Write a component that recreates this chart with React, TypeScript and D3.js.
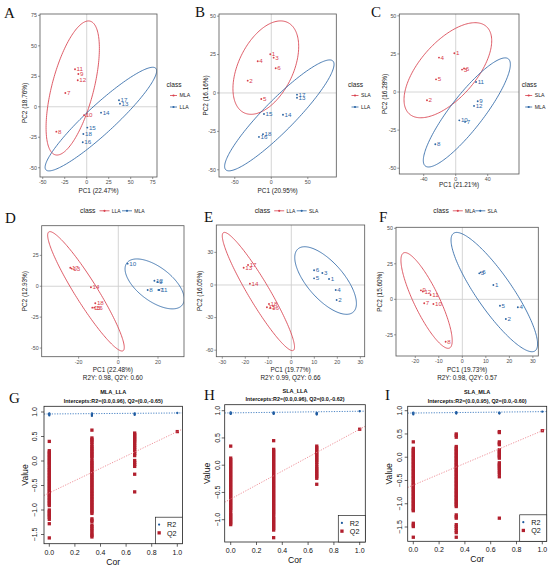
import React from "react";
import * as d3 from "d3";

type Pt = { id: string; x: number; y: number };
type Ell = { cx: number; cy: number; w: number; h: number; r: number };

// ---------------- PCA / OPLS-DA scores (PC1, PC2) ----------------
const A_MLA: Pt[] = [
  { id: "11", x: -13.3, y: 30.8 }, { id: "9", x: -9.5, y: 26.9 }, { id: "12", x: -10.2, y: 21.7 },
  { id: "7", x: -24.3, y: 11.3 }, { id: "10", x: -3, y: -7 }, { id: "8", x: -34.5, y: -20.4 },
];
const A_LLA: Pt[] = [
  { id: "17", x: 36.7, y: 5.3 }, { id: "13", x: 37.8, y: 2.5 }, { id: "14", x: 16.3, y: -4.8 },
  { id: "15", x: 0.7, y: -17.1 }, { id: "18", x: -3.8, y: -22.3 }, { id: "16", x: -4.5, y: -29.1 },
];
const B_SLA: Pt[] = [
  { id: "1", x: -1.4, y: 25.2 }, { id: "3", x: 3.2, y: 23 }, { id: "4", x: -18.6, y: 20.6 },
  { id: "6", x: 6, y: 16.1 }, { id: "2", x: -32.3, y: 8 }, { id: "5", x: -13.7, y: -3.9 },
];
const B_LLA: Pt[] = [
  { id: "17", x: 35.2, y: -1.1 }, { id: "13", x: 35.2, y: -3.1 }, { id: "15", x: -10, y: -13.7 },
  { id: "14", x: 16, y: -14.2 }, { id: "18", x: -11.4, y: -26.8 }, { id: "16", x: -16.9, y: -28.6 },
];
const C_SLA: Pt[] = [
  { id: "1", x: -1.7, y: 25.4 }, { id: "4", x: -20.9, y: 22.6 }, { id: "6", x: 10.4, y: 15.4 },
  { id: "3", x: 7.9, y: 14.7 }, { id: "5", x: -24.6, y: 8.3 }, { id: "2", x: -35.9, y: -5.4 },
];
const C_MLA: Pt[] = [
  { id: "11", x: 25.4, y: 6.6 }, { id: "9", x: 27.5, y: -6.1 }, { id: "12", x: 22.9, y: -9.1 },
  { id: "10", x: 4.5, y: -18.6 }, { id: "7", x: 11.7, y: -19.6 }, { id: "8", x: -25.5, y: -34.3 },
];
const D_LLA: Pt[] = [
  { id: "17", x: -24.2, y: 15 }, { id: "13", x: -23.5, y: 14.3 }, { id: "14", x: -13.8, y: -0.8 },
  { id: "18", x: -11.6, y: -13.8 }, { id: "15", x: -13.1, y: -17.3 }, { id: "16", x: -12.1, y: -17.3 },
];
const D_MLA: Pt[] = [
  { id: "10", x: 4.7, y: 18.3 }, { id: "12", x: 18.2, y: 4.5 }, { id: "9", x: 19.7, y: 3.5 },
  { id: "8", x: 14.8, y: -3 }, { id: "11", x: 20.7, y: -3 }, { id: "7", x: 20.2, y: -3 },
];
const E_LLA: Pt[] = [
  { id: "17", x: -18.8, y: 18.4 }, { id: "13", x: -20.7, y: 15.9 }, { id: "14", x: -18, y: 1.2 },
  { id: "18", x: -9.7, y: -17.5 }, { id: "15", x: -10.6, y: -20.5 }, { id: "16", x: -9.1, y: -20.9 },
];
const E_SLA: Pt[] = [
  { id: "6", x: 9.9, y: 13.5 }, { id: "3", x: 13.5, y: 11 }, { id: "5", x: 9.9, y: 6.1 },
  { id: "1", x: 16.4, y: 5.5 }, { id: "4", x: 19.3, y: -4.6 }, { id: "2", x: 19.7, y: -13.8 },
];
const F_MLA: Pt[] = [
  { id: "9", x: -17.6, y: 6.3 }, { id: "12", x: -16.8, y: 5.5 }, { id: "11", x: -13.5, y: 3 },
  { id: "7", x: -16.2, y: -2.8 }, { id: "10", x: -12.3, y: -3.3 }, { id: "8", x: -7.1, y: -29.9 },
];
const F_SLA: Pt[] = [
  { id: "3", x: 7.2, y: 18.3 }, { id: "6", x: 7.8, y: 19 }, { id: "1", x: 13.2, y: 10.1 },
  { id: "5", x: 16, y: -4.5 }, { id: "4", x: 23.6, y: -5.6 }, { id: "2", x: 18.5, y: -13.9 },
];

// confidence ellipses: centre, half ranges, correlation
const A_MLA_ELL: Ell = { cx: -15.9, cy: 15.4, w: 30.3, h: 55.0, r: 0.59 };
const A_LLA_ELL: Ell = { cx: 16.1, cy: -10.1, w: 63.4, h: 42.5, r: 0.93 };
const B_SLA_ELL: Ell = { cx: -7.5, cy: 16.5, w: 45, h: 30.4, r: 0.45 };
const B_LLA_ELL: Ell = { cx: 11, cy: -14.6, w: 74.9, h: 36.1, r: 0.92 };
const C_SLA_ELL: Ell = { cx: -9.8, cy: 14.3, w: 54.8, h: 31.2, r: 0.62 };
const C_MLA_ELL: Ell = { cx: 13.9, cy: -13.4, w: 54.4, h: 35.8, r: 0.88 };
const D_LLA_ELL: Ell = { cx: -16.3, cy: -4.1, w: 19.3, h: 48.3, r: -0.94 };
const D_MLA_ELL: Ell = { cx: 18.3, cy: 1.9, w: 14.9, h: 20.2, r: -0.6 };
const E_LLA_ELL: Ell = { cx: -14.3, cy: -6, w: 15.7, h: 54.4, r: -0.94 };
const E_SLA_ELL: Ell = { cx: 14.9, cy: 4.1, w: 13.4, h: 31.1, r: -0.68 };
const F_MLA_ELL: Ell = { cx: -15.2, cy: -0.8, w: 10.9, h: 33.7, r: -0.84 };
const F_SLA_ELL: Ell = { cx: 13.6, cy: 5.1, w: 18.4, h: 42, r: -0.87 };

const PCA_X_TITLES = ["PC1 (22.47%)", "PC1 (20.95%)", "PC1 (21.21%)", "PC1 (22.48%)", "PC1 (19.77%)", "PC1 (19.73%)"];
const PCA_Y_TITLES = ["PC2 (18.76%)", "PC2 (16.16%)", "PC2 (16.28%)", "PC2 (12.93%)", "PC2 (16.05%)", "PC2 (15.60%)"];
const OPLS_FIT = ["R2Y: 0.98, Q2Y: 0.60", "R2Y: 0.99, Q2Y: 0.66", "R2Y: 0.98, Q2Y: 0.57"];

const A_XT = [-50, -25, 0, 25, 50, 75];
const A_YT = [-50, -25, 0, 25, 50, 75];
const B_XT = [-50, 0, 50];
const B_YT = [-50, -25, 0, 25, 50];
const C_XT = [-40, 0, 40];
const C_YT = [-50, -25, 0, 25, 50];
const D_XT = [-20, 0, 20];
const D_YT = [-50, -25, 0, 25];
const E_XT = [-30, -20, -10, 0, 10, 20, 30];
const E_YT = [-60, -30, 0, 30];
const F_XT = [-20, -10, 0, 10, 20, 30];
const F_YT = [-25, 0, 25, 50];

// ---------------- permutation tests ----------------
const COR_LEVELS = [0, 0.333, 0.667, 1];

const G_Q2 = [
  [0.40, 0.21, 0.18, 0.15, 0.12, 0.09, 0.06, 0.03, 0.0, -0.03, -0.06, -0.09, -0.13, -0.16, -0.19, -0.22, -0.25, -0.28, -0.31, -0.34, -0.37, -0.40, -0.43, -0.46, -0.49, -0.52, -0.55, -0.58, -0.61, -0.64, -0.67, -0.70, -0.73, -0.76, -0.79, -0.82, -0.85, -0.88, -0.91, -1.00, -1.03, -1.06, -1.09, -1.12, -1.15, -1.19, -1.28, -1.57],
  [0.63, 0.47, 0.44, 0.41, 0.38, 0.34, 0.30, 0.27, 0.24, 0.21, 0.18, 0.15, 0.12, 0.09, 0.06, 0.01, -0.02, -0.05, -0.08, -0.11, -0.14, -0.17, -0.20, -0.23, -0.26, -0.29, -0.32, -0.35, -0.38, -0.41, -0.44, -0.47, -0.50, -0.53, -0.56, -0.59, -0.62, -0.65, -0.68, -0.71, -0.74, -0.77, -0.80, -0.83, -0.86, -0.89, -0.92, -0.95, -0.98, -1.01, -1.04, -1.07, -1.18, -1.21, -1.24, -1.31, -1.34, -1.38, -1.41, -1.45, -1.49, -1.52, -1.55],
  [0.57, 0.54, 0.51, 0.48, 0.45, 0.42, 0.39, 0.35, 0.31, 0.27, 0.23, 0.19, 0.15, 0.11, 0.01, -0.03, -0.07, -0.11, -0.27, -0.63],
  [0.60],
];
const G_R2 = [[0.93, 0.95, 0.96, 0.97], [0.92, 0.94, 0.95, 0.97], [0.94, 0.96, 0.97], [0.98]];
const G_R2_LINE = [0.96, 0.98];
const G_Q2_LINE = [-0.65, 0.60];

const H_Q2 = [
  [0.35, 0.13, 0.10, 0.07, 0.04, 0.01, -0.02, -0.05, -0.08, -0.11, -0.14, -0.17, -0.20, -0.23, -0.26, -0.29, -0.32, -0.35, -0.38, -0.41, -0.44, -0.47, -0.50, -0.53, -0.56, -0.59, -0.62, -0.65, -0.68, -0.71, -0.74, -0.77, -0.80, -0.83, -0.88, -0.91, -0.94, -0.97, -1.00, -1.03, -1.06, -1.09],
  [0.45, 0.29, 0.26, 0.23, 0.20, 0.17, 0.14, 0.11, 0.08, 0.05, 0.02, -0.01, -0.04, -0.07, -0.10, -0.13, -0.16, -0.19, -0.22, -0.25, -0.28, -0.31, -0.34, -0.37, -0.40, -0.43, -0.46, -0.49, -0.52, -0.55, -0.58, -0.61, -0.64, -0.67, -0.70, -0.73, -0.76, -0.79, -0.82, -0.85, -0.88, -0.91, -0.95, -0.98, -1.01, -1.04, -1.07, -1.10, -1.13, -1.16, -1.19, -1.33],
  [0.35, 0.32, 0.29, 0.26, 0.23, 0.20, 0.17, 0.14, 0.11, 0.08, 0.05, 0.01, -0.03, -0.06, -0.09, -0.12, -0.15, -0.18, -0.21, -0.24, -0.35],
  [0.66],
];
const H_R2 = [[0.94, 0.95, 0.96, 0.97], [0.94, 0.95, 0.96, 0.97], [0.93, 0.94, 0.95, 0.96], [0.99]];
const H_R2_LINE = [0.96, 0.99];
const H_Q2_LINE = [-0.62, 0.66];

const I_Q2 = [
  [0.33, 0.19, 0.16, 0.13, 0.10, 0.07, 0.04, 0.01, -0.02, -0.05, -0.08, -0.11, -0.14, -0.17, -0.20, -0.23, -0.26, -0.29, -0.32, -0.35, -0.38, -0.41, -0.44, -0.47, -0.50, -0.53, -0.56, -0.59, -0.62, -0.65, -0.68, -0.71, -0.74, -0.77, -0.80, -0.83, -0.86, -0.89, -0.92, -0.95, -0.98, -1.01, -1.04, -1.07, -1.10, -1.13, -1.15, -1.42, -1.46, -1.49, -1.72],
  [0.50, 0.47, 0.43, 0.23, 0.20, 0.17, 0.14, 0.11, 0.08, 0.05, 0.02, -0.01, -0.04, -0.07, -0.10, -0.13, -0.16, -0.19, -0.22, -0.25, -0.28, -0.31, -0.34, -0.37, -0.40, -0.43, -0.46, -0.49, -0.52, -0.55, -0.58, -0.61, -0.64, -0.67, -0.70, -0.73, -0.76, -0.79, -0.82, -0.85, -0.88, -0.91, -0.94, -0.97, -1.00, -1.03, -1.06, -1.24, -1.28, -1.31, -1.45, -1.49, -1.53, -1.58, -1.62, -1.72],
  [0.55, 0.53, 0.33, 0.30, 0.27, 0.16, 0.13, 0.10, 0.07, 0.04, 0.01, -0.02, -0.12, -0.15, -0.18, -0.21, -0.24, -0.28, -0.32, -0.36, -0.42, -1.31],
  [0.57],
];
const I_R2 = [[0.92, 0.94, 0.95, 0.96], [0.94, 0.95, 0.96, 0.97], [0.94, 0.95, 0.96], [0.98]];
const I_R2_LINE = [0.95, 0.98];
const I_Q2_LINE = [-0.60, 0.57];

const PERM_TITLES = ["MLA_LLA", "SLA_LLA", "SLA_MLA"];
const PERM_INTERCEPTS = [
  "Intercepts:R2=(0.0,0.96), Q2=(0.0,-0.65)",
  "Intercepts:R2=(0.0,0.96), Q2=(0.0,-0.62)",
  "Intercepts:R2=(0.0,0.95), Q2=(0.0,-0.60)",
];
const PERM_XT = [0, 0.2, 0.4, 0.6, 0.8, 1.0];
const G_YT = [-1.5, -1.0, -0.5, 0, 0.5, 1.0];
const H_YT = [-1.0, -0.5, 0, 0.5, 1.0];
const I_YT = [-1.5, -1.0, -0.5, 0, 0.5, 1.0];

// ---------------- style ----------------
const RED = "#D8404D";
const BLUE = "#2D67A6";
const Q2_RED = "#B11F2D";
const R2_BLUE = "#1F5A9E";
const SANS = "'Liberation Sans', Arial, Helvetica, sans-serif";
const SERIF = "'Liberation Serif', 'Times New Roman', serif";

type Group = { name: string; color: string; pts: Pt[]; ell: Ell };
type PcaCfg = {
  letter: string; letterPos: [number, number];
  rect: [number, number, number, number];
  xDom: [number, number]; yDom: [number, number];
  xTicks: number[]; yTicks: number[];
  xTitle: string; xTitleY: number; yTitle: string; yTitleX: number; yTitleY?: number;
  fit?: string; fitY?: number;
  groups: Group[];
  legend: { kind: "right" | "top"; x: number; y: number };
};

const PCA: PcaCfg[] = [
  {
    letter: "A", letterPos: [4, 18], rect: [40, 14, 157, 177], xDom: [-53.1, 79.9], yDom: [-57.6, 76.1],
    xTicks: A_XT, yTicks: A_YT, xTitle: PCA_X_TITLES[0], xTitleY: 192.5, yTitle: PCA_Y_TITLES[0], yTitleX: 26.5, yTitleY: 103,
    groups: [{ name: "MLA", color: RED, pts: A_MLA, ell: A_MLA_ELL }, { name: "LLA", color: BLUE, pts: A_LLA, ell: A_LLA_ELL }],
    legend: { kind: "right", x: 166.5, y: 87 },
  },
  {
    letter: "B", letterPos: [195, 17], rect: [219, 14, 336.3, 177], xDom: [-71.6, 89], yDom: [-54.7, 51.4],
    xTicks: B_XT, yTicks: B_YT, xTitle: PCA_X_TITLES[1], xTitleY: 192.5, yTitle: PCA_Y_TITLES[1], yTitleX: 208,
    groups: [{ name: "SLA", color: RED, pts: B_SLA, ell: B_SLA_ELL }, { name: "LLA", color: BLUE, pts: B_LLA, ell: B_LLA_ELL }],
    legend: { kind: "right", x: 348, y: 87 },
  },
  {
    letter: "C", letterPos: [371, 17], rect: [399.3, 14, 519, 174], xDom: [-70.5, 79.1], yDom: [-53.8, 51.2],
    xTicks: C_XT, yTicks: C_YT, xTitle: PCA_X_TITLES[2], xTitleY: 186.5, yTitle: PCA_Y_TITLES[2], yTitleX: 387.3,
    groups: [{ name: "SLA", color: RED, pts: C_SLA, ell: C_SLA_ELL }, { name: "MLA", color: BLUE, pts: C_MLA, ell: C_MLA_ELL }],
    legend: { kind: "right", x: 521.7, y: 87 },
  },
  {
    letter: "D", letterPos: [5, 223], rect: [41.7, 225.7, 184, 356.7], xDom: [-38.6, 33.1], yDom: [-57, 49],
    xTicks: D_XT, yTicks: D_YT, xTitle: PCA_X_TITLES[3], xTitleY: 371.5, yTitle: PCA_Y_TITLES[3], yTitleX: 26.5,
    fit: OPLS_FIT[0], fitY: 379.5,
    groups: [{ name: "LLA", color: RED, pts: D_LLA, ell: D_LLA_ELL }, { name: "MLA", color: BLUE, pts: D_MLA, ell: D_MLA_ELL }],
    legend: { kind: "top", x: 80, y: 213 },
  },
  {
    letter: "E", letterPos: [204, 222], rect: [216.3, 225, 364.7, 356.7], xDom: [-32.6, 31.9], yDom: [-66, 55.2],
    xTicks: E_XT, yTicks: E_YT, xTitle: PCA_X_TITLES[4], xTitleY: 371.5, yTitle: PCA_Y_TITLES[4], yTitleX: 202,
    fit: OPLS_FIT[1], fitY: 379.5,
    groups: [{ name: "LLA", color: RED, pts: E_LLA, ell: E_LLA_ELL }, { name: "SLA", color: BLUE, pts: E_SLA, ell: E_SLA_ELL }],
    legend: { kind: "top", x: 254.7, y: 213 },
  },
  {
    letter: "F", letterPos: [379, 222], rect: [396, 227.3, 538.3, 356], xDom: [-28.2, 32.3], yDom: [-39.9, 50.7],
    xTicks: F_XT, yTicks: F_YT, xTitle: PCA_X_TITLES[5], xTitleY: 371.5, yTitle: PCA_Y_TITLES[5], yTitleX: 382.3,
    fit: OPLS_FIT[2], fitY: 379.5,
    groups: [{ name: "MLA", color: RED, pts: F_MLA, ell: F_MLA_ELL }, { name: "SLA", color: BLUE, pts: F_SLA, ell: F_SLA_ELL }],
    legend: { kind: "top", x: 433.3, y: 213 },
  },
];

type PermCfg = {
  letter: string; letterPos: [number, number];
  box: [number, number, number, number];
  xRange: [number, number]; yAnchor: [number, number]; yRange: [number, number];
  yTicks: number[]; title: string; intercepts: string;
  q2: number[][]; r2: number[][]; r2Line: number[]; q2Line: number[];
  yLabX: number; valueX: number;
};

const PERM: PermCfg[] = [
  {
    letter: "G", letterPos: [9, 403], box: [44, 406.3, 182.5, 543.7], xRange: [49.3, 177.3], yAnchor: [1, -1.5], yRange: [412, 534.5],
    yTicks: G_YT, title: PERM_TITLES[0], intercepts: PERM_INTERCEPTS[0], q2: G_Q2, r2: G_R2, r2Line: G_R2_LINE, q2Line: G_Q2_LINE,
    yLabX: 37.3, valueX: 28.3,
  },
  {
    letter: "H", letterPos: [204, 400], box: [224.7, 404.7, 365.3, 542], xRange: [230.7, 359.7], yAnchor: [1, -1], yRange: [410.7, 519.7],
    yTicks: H_YT, title: PERM_TITLES[1], intercepts: PERM_INTERCEPTS[1], q2: H_Q2, r2: H_R2, r2Line: H_R2_LINE, q2Line: H_Q2_LINE,
    yLabX: 219.7, valueX: 209.7,
  },
  {
    letter: "I", letterPos: [385, 400], box: [407.7, 406.3, 546.7, 541.3], xRange: [413.3, 542.3], yAnchor: [1, -1.5], yRange: [410.7, 527],
    yTicks: I_YT, title: PERM_TITLES[2], intercepts: PERM_INTERCEPTS[2], q2: I_Q2, r2: I_R2, r2Line: I_R2_LINE, q2Line: I_Q2_LINE,
    yLabX: 402.3, valueX: 392.3,
  },
];

function PcaPanel({ c }: { c: PcaCfg }) {
  const [x0, y0, x1, y1] = c.rect;
  const xs = d3.scaleLinear().domain(c.xDom).range([x0, x1]);
  const ys = d3.scaleLinear().domain(c.yDom).range([y1, y0]);
  const line = d3.line<[number, number]>();
  const ellPath = (e: Ell) => {
    const k = Math.sqrt(1 - e.r * e.r);
    const pts = d3.range(0, 181).map((i) => {
      const s = (i / 180) * 2 * Math.PI;
      return [xs(e.cx + e.w * Math.cos(s)), ys(e.cy + e.h * (e.r * Math.cos(s) - k * Math.sin(s)))] as [number, number];
    });
    return (line(pts) || "") + "Z";
  };
  const cid = `clip-${c.letter}`;
  const midX = (x0 + x1) / 2;
  const midY = c.yTitleY ?? (y0 + y1) / 2;
  const leg = c.legend;
  return (
    <g>
      <defs>
        <clipPath id={cid}>
          <rect x={x0} y={y0} width={x1 - x0} height={y1 - y0} />
        </clipPath>
      </defs>
      <g clipPath={`url(#${cid})`}>
        <line x1={xs(0)} x2={xs(0)} y1={y0} y2={y1} stroke="#D0D0D0" strokeWidth={0.9} />
        <line x1={x0} x2={x1} y1={ys(0)} y2={ys(0)} stroke="#D0D0D0" strokeWidth={0.9} />
        {c.groups.map((g) => (
          <path key={g.name} d={ellPath(g.ell)} fill="none" stroke={g.color} strokeWidth={0.85} />
        ))}
        {c.groups.map((g) =>
          g.pts.map((p) => <circle key={g.name + p.id} cx={xs(p.x)} cy={ys(p.y)} r={0.95} fill={g.color} />)
        )}
      </g>
      {c.groups.map((g) =>
        g.pts.map((p) => (
          <text key={"t" + g.name + p.id} x={xs(p.x) + 1.6} y={ys(p.y) + 2.1} fontSize={6.2} fill={g.color} fontFamily={SANS}>
            {p.id}
          </text>
        ))
      )}
      <rect x={x0} y={y0} width={x1 - x0} height={y1 - y0} fill="none" stroke="#555" strokeWidth={0.8} />
      {c.xTicks.map((t) => (
        <g key={"xt" + t}>
          <line x1={xs(t)} x2={xs(t)} y1={y1} y2={y1 + 2} stroke="#555" strokeWidth={0.6} />
          <text x={xs(t)} y={y1 + 7} fontSize={5.3} textAnchor="middle" fill="#4D4D4D" fontFamily={SANS}>
            {t}
          </text>
        </g>
      ))}
      {c.yTicks.map((t) => (
        <g key={"yt" + t}>
          <line x1={x0 - 2} x2={x0} y1={ys(t)} y2={ys(t)} stroke="#555" strokeWidth={0.6} />
          <text x={x0 - 3} y={ys(t) + 1.9} fontSize={5.3} textAnchor="end" fill="#4D4D4D" fontFamily={SANS}>
            {t}
          </text>
        </g>
      ))}
      <text x={midX} y={c.xTitleY} fontSize={6.4} textAnchor="middle" fill="#1a1a1a" fontFamily={SANS}>
        {c.xTitle}
      </text>
      {c.fit && (
        <text x={midX} y={c.fitY} fontSize={6.4} textAnchor="middle" fill="#1a1a1a" fontFamily={SANS}>
          {c.fit}
        </text>
      )}
      <text
        transform={`translate(${c.yTitleX},${midY}) rotate(-90)`}
        fontSize={6.4}
        textAnchor="middle"
        fill="#1a1a1a"
        fontFamily={SANS}
      >
        {c.yTitle}
      </text>
      {leg.kind === "right" ? (
        <g fontFamily={SANS}>
          <text x={leg.x} y={leg.y} fontSize={6.6} fill="#1a1a1a">class</text>
          {c.groups.map((g, i) => {
            const yy = leg.y + 8.5 + i * 11.5;
            return (
              <g key={"lg" + g.name}>
                <line x1={leg.x + 3.5} x2={leg.x + 10.5} y1={yy} y2={yy} stroke={g.color} strokeWidth={0.8} />
                <circle cx={leg.x + 7} cy={yy} r={1.1} fill={g.color} />
                <text x={leg.x + 13} y={yy + 1.8} fontSize={5.2} fill="#1a1a1a">{g.name}</text>
              </g>
            );
          })}
        </g>
      ) : (
        <g fontFamily={SANS}>
          <text x={leg.x} y={leg.y} fontSize={6.8} fill="#1a1a1a">class</text>
          {c.groups.map((g, i) => {
            const kx = leg.x + 19.5 + i * 22.5;
            const yy = leg.y - 2.2;
            return (
              <g key={"lg" + g.name}>
                <line x1={kx} x2={kx + 10} y1={yy} y2={yy} stroke={g.color} strokeWidth={0.8} />
                <circle cx={kx + 5} cy={yy} r={1.1} fill={g.color} />
                <text x={kx + 12.3} y={yy + 1.9} fontSize={5} fill="#1a1a1a">{g.name}</text>
              </g>
            );
          })}
        </g>
      )}
      <text x={c.letterPos[0]} y={c.letterPos[1]} fontSize={15} fontFamily={SERIF} fill="#111">
        {c.letter}
      </text>
    </g>
  );
}

function PermPanel({ c }: { c: PermCfg }) {
  const [bx0, by0, bx1, by1] = c.box;
  const xs = d3.scaleLinear().domain([0, 1]).range(c.xRange);
  const ys = d3.scaleLinear().domain(c.yAnchor).range(c.yRange);
  const cid = `clip-${c.letter}`;
  const xa = xs.invert(bx0);
  const xb = xs.invert(bx1);
  const lineY = (l: number[], x: number) => l[0] + (l[1] - l[0]) * x;
  const midX = (bx0 + bx1) / 2;
  const midY = (by0 + by1) / 2;
  const sq = 3.3;
  const lgW = 27;
  const lgH = 26.5;
  return (
    <g fontFamily={SANS}>
      <defs>
        <clipPath id={cid}>
          <rect x={bx0} y={by0} width={bx1 - bx0} height={by1 - by0} />
        </clipPath>
      </defs>
      <g clipPath={`url(#${cid})`}>
        {c.q2.map((col, i) =>
          col.map((v, j) => (
            <rect key={`q${i}-${j}`} x={xs(COR_LEVELS[i]) - sq / 2} y={ys(v) - sq / 2} width={sq} height={sq} fill={Q2_RED} />
          ))
        )}
        {c.r2.map((col, i) =>
          col.map((v, j) => <circle key={`r${i}-${j}`} cx={xs(COR_LEVELS[i])} cy={ys(v)} r={1.15} fill={R2_BLUE} />)
        )}
        <line x1={bx0} x2={bx1} y1={ys(lineY(c.r2Line, xa))} y2={ys(lineY(c.r2Line, xb))} stroke="#3A78BE" strokeWidth={0.9} strokeDasharray="1.2 1.4" />
        <line x1={bx0} x2={bx1} y1={ys(lineY(c.q2Line, xa))} y2={ys(lineY(c.q2Line, xb))} stroke="#EC8790" strokeWidth={0.9} strokeDasharray="1.2 1.4" />
      </g>
      <rect x={bx0} y={by0} width={bx1 - bx0} height={by1 - by0} fill="none" stroke="#222" strokeWidth={0.8} />
      {PERM_XT.map((t) => (
        <g key={"x" + t}>
          <line x1={xs(t)} x2={xs(t)} y1={by1} y2={by1 + 3} stroke="#222" strokeWidth={0.7} />
          <text x={xs(t)} y={by1 + 11} fontSize={7} textAnchor="middle" fill="#111">
            {t.toFixed(1)}
          </text>
        </g>
      ))}
      {c.yTicks.map((t) => (
        <g key={"y" + t}>
          <line x1={bx0 - 3} x2={bx0} y1={ys(t)} y2={ys(t)} stroke="#222" strokeWidth={0.7} />
          <text transform={`translate(${c.yLabX},${ys(t)}) rotate(-90)`} fontSize={7} textAnchor="middle" fill="#111">
            {t === 0 ? "0.0" : (t < 0 ? "\u2212" : "") + Math.abs(t).toFixed(1)}
          </text>
        </g>
      ))}
      <text x={midX} y={by1 + 21} fontSize={8.6} textAnchor="middle" fill="#111">Cor</text>
      <text transform={`translate(${c.valueX},${midY}) rotate(-90)`} fontSize={8.6} textAnchor="middle" fill="#111">
        Value
      </text>
      <text x={midX} y={by0 - 12} fontSize={5.6} fontWeight="bold" textAnchor="middle" fill="#111">{c.title}</text>
      <text x={midX} y={by0 - 3.6} fontSize={5.4} fontWeight="bold" textAnchor="middle" fill="#111">{c.intercepts}</text>
      <g>
        <rect x={bx1 - lgW} y={by1 - lgH} width={lgW} height={lgH} fill="#fff" stroke="#222" strokeWidth={0.7} />
        <circle cx={bx1 - lgW + 3.6} cy={by1 - lgH + 7.4} r={1.1} fill={R2_BLUE} />
        <text x={bx1 - lgW + 11.5} y={by1 - lgH + 10} fontSize={7.2} fill="#111">R2</text>
        <rect x={bx1 - lgW + 2} y={by1 - lgH + 14} width={sq} height={sq} fill={Q2_RED} />
        <text x={bx1 - lgW + 11.5} y={by1 - lgH + 18.3} fontSize={7.2} fill="#111">Q2</text>
      </g>
      <text x={c.letterPos[0]} y={c.letterPos[1]} fontSize={15} fontFamily={SERIF} fill="#111">
        {c.letter}
      </text>
    </g>
  );
}

export default function App() {
  return (
    <svg
      width={550}
      height={569}
      viewBox="0 0 550 569"
      style={{ position: "absolute", left: 0, top: 0, background: "#fff" }}
    >
      <rect x={0} y={0} width={550} height={569} fill="#fff" />
      {PCA.map((c) => (
        <PcaPanel key={c.letter} c={c} />
      ))}
      {PERM.map((c) => (
        <PermPanel key={c.letter} c={c} />
      ))}
    </svg>
  );
}
